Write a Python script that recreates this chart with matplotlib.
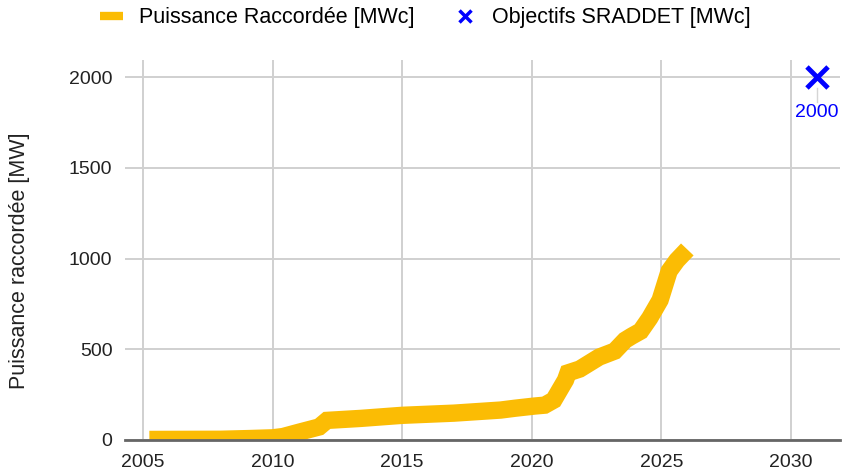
import matplotlib
matplotlib.use("Agg")
import matplotlib.pyplot as plt
from matplotlib.lines import Line2D

plt.rcParams["font.family"] = ["Liberation Sans", "DejaVu Sans"]

# Installed capacity (MWc)
years = [2005.25, 2008.0, 2009.1, 2010.0, 2010.4, 2011.05, 2011.8, 2012.1,
         2013.4, 2015.0, 2017.0, 2018.8, 2019.35, 2020.1, 2020.5, 2020.85,
         2021.3, 2021.4, 2021.85, 2022.6, 2023.2, 2023.6, 2023.85, 2024.2,
         2024.55, 2024.95, 2025.3, 2025.6, 2026.0]
power = [3, 4, 8, 12, 19, 44, 72, 108,
         119, 136, 148, 165, 175, 187, 192, 220,
         330, 370, 391, 457, 490, 550, 572, 600,
         672, 771, 931, 990, 1050]

# SRADDET target
target_year = [2031.0]
target_power = [2000]
target_label = "2000"

LINE_COLOR = "#fbbc04"
TARGET_COLOR = "#0000ff"
TEXT_COLOR = "#222222"

fig = plt.figure(figsize=(8.43, 4.74), dpi=100)
ax = fig.add_axes([125 / 843, 34 / 474, 715 / 843, 380 / 474])

ax.plot(years, power, color=LINE_COLOR, lw=12.5, solid_capstyle="butt",
        solid_joinstyle="miter", zorder=3)
ax.scatter(target_year, target_power, marker="x", s=230, color=TARGET_COLOR,
           linewidths=3.5, zorder=4, clip_on=False)
for x, y in zip(target_year, target_power):
    ax.plot([x, x], [y - 60, y - 140], color="#d5d5d5", lw=1, zorder=2)
    ax.text(x, y - 150, target_label, color=TARGET_COLOR, fontsize=14,
            ha="center", va="top")

ax.set_xlim(2004.31, 2031.89)
ax.set_ylim(0, 2094)
ax.set_xticks(range(2005, 2031, 5))
ax.set_yticks(range(0, 2001, 500))
ax.grid(True, color="#d0d0d0", lw=1.4)
ax.set_axisbelow(True)
for side in ["top", "right", "left"]:
    ax.spines[side].set_visible(False)
ax.spines["bottom"].set_color("#666666")
ax.spines["bottom"].set_linewidth(2)
ax.spines["bottom"].set_zorder(5)
ax.tick_params(length=0, labelsize=14, colors=TEXT_COLOR)
ax.tick_params(axis="y", pad=9)
ax.tick_params(axis="x", pad=10)

# y axis title, placed in figure pixels
fig.text(20 / 843, 1 - 261 / 474, "Puissance raccordée [MW]", rotation=90,
         ha="center", va="center", fontsize=15.5, color=TEXT_COLOR)

handles = [
    Line2D([], [], color=LINE_COLOR, lw=6, solid_capstyle="butt"),
    Line2D([], [], color=TARGET_COLOR, marker="x", ls="none", markersize=9, mew=2.5),
]
fig.legend(handles, ["Puissance Raccordée [MWc]", "Objectifs SRADDET [MWc]"],
           loc="center", bbox_to_anchor=(425 / 843, 1 - 18 / 474), ncol=2,
           frameon=False, fontsize=15.5, handlelength=1.1, columnspacing=1.8,
           handletextpad=0.7)

fig.savefig("out.png", dpi=100)
